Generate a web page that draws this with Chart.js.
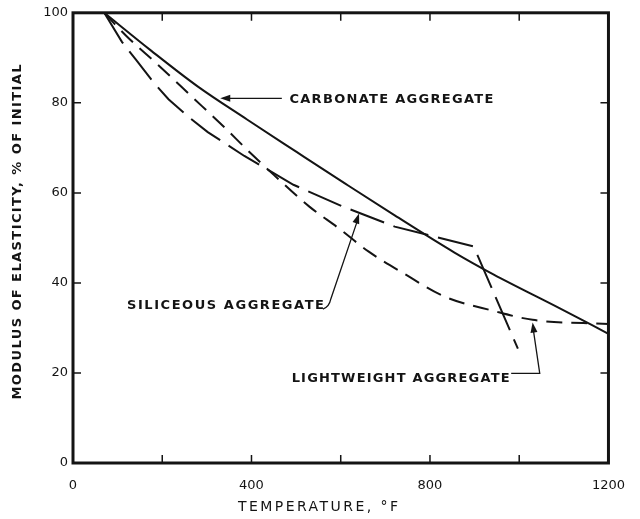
<!DOCTYPE html>
<html>
<head>
<meta charset="utf-8">
<script src="https://cdn.jsdelivr.net/npm/chart.js@4.4.1/dist/chart.umd.min.js"></script>
<style>
    html, body { margin: 0; padding: 0; background: #fff; }
    #chart { display: block; }
</style>
</head>
<body>
<canvas id="chart" width="640" height="519"></canvas>
<script>
// Werte (Temperatur in °F, E-Modul in % vom Anfangswert)
const carbonateTemp = [70, 175, 280, 390, 501, 611, 721, 854, 942, 1090, 1200];
const carbonateModulus = [100, 91.6, 83.6, 76.3, 69.1, 62.0, 55.0, 46.8, 41.9, 34.4, 28.7];

const siliceousTemp = [70, 110, 141, 180, 214, 260, 302, 384, 494, 604, 721, 898, 997];
const siliceousModulus = [100, 93.5, 89.6, 84.6, 80.8, 76.8, 73.5, 68.2, 61.8, 57.0, 52.5, 48.1, 25.4];

const lightweightTemp = [70, 119, 192, 265, 340, 390, 450, 529, 596, 662, 743, 832, 942, 1030, 1200];
const lightweightModulus = [100, 94.9, 88.3, 81.5, 74.5, 69.6, 64.0, 57.0, 52.1, 47.0, 42.0, 37.0, 33.8, 31.8, 30.9];

const xLabelValues = [0, 400, 800, 1200];
const yTickValues = [0, 20, 40, 60, 80, 100];

const seriesNames = ['CARBONATE AGGREGATE', 'SILICEOUS AGGREGATE', 'LIGHTWEIGHT AGGREGATE'];
const xTitle = 'TEMPERATURE, °F';
const yTitle = 'MODULUS OF ELASTICITY, % OF INITIAL';

const ink = '#141414';

function toPoints(xs, ys) {
    return xs.map((x, i) => ({ x: x, y: ys[i] }));
}

// Text auf eine Zielbreite bringen (Sperrung wie in der Vorlage)
function spacedText(ctx, text, x, y, width) {
    ctx.letterSpacing = '0px';
    const w = ctx.measureText(text).width;
    const ls = (width - w) / Math.max(text.length - 1, 1);
    ctx.letterSpacing = ls + 'px';
    ctx.fillText(text, x, y);
    ctx.letterSpacing = '0px';
}

function arrowHead(ctx, fx, fy, tx, ty) {
    const a = Math.atan2(ty - fy, tx - fx);
    const len = 10, half = 3.5;
    ctx.beginPath();
    ctx.moveTo(tx, ty);
    ctx.lineTo(tx - len * Math.cos(a) + half * Math.sin(a), ty - len * Math.sin(a) - half * Math.cos(a));
    ctx.lineTo(tx - len * Math.cos(a) - half * Math.sin(a), ty - len * Math.sin(a) + half * Math.cos(a));
    ctx.closePath();
    ctx.fill();
}

const framePlugin = {
    id: 'frame',
    afterDatasetsDraw(chart) {
        const ctx = chart.ctx;
        const area = chart.chartArea;
        const xs = chart.scales.x;
        const ys = chart.scales.y;
        ctx.save();
        ctx.strokeStyle = ink;
        ctx.fillStyle = ink;

        // Rahmen
        ctx.lineWidth = 3;
        ctx.strokeRect(area.left, area.top, area.right - area.left, area.bottom - area.top);

        // Innenliegende Teilstriche
        ctx.lineWidth = 1.5;
        ctx.beginPath();
        xs.ticks.forEach(t => {
            const px = xs.getPixelForValue(t.value);
            ctx.moveTo(px, area.bottom);
            ctx.lineTo(px, area.bottom - 8);
            ctx.moveTo(px, area.top);
            ctx.lineTo(px, area.top + 8);
        });
        ys.ticks.forEach(t => {
            const py = ys.getPixelForValue(t.value);
            ctx.moveTo(area.left, py);
            ctx.lineTo(area.left + 8, py);
            ctx.moveTo(area.right, py);
            ctx.lineTo(area.right - 8, py);
        });
        ctx.stroke();

        // Beschriftungen der Kurven
        ctx.font = 'bold 13px "DejaVu Sans"';
        ctx.textBaseline = 'middle';
        ctx.textAlign = 'left';
        const X = v => xs.getPixelForValue(v);
        const Y = v => ys.getPixelForValue(v);

        spacedText(ctx, seriesNames[0], X(485), Y(80.8), 204);
        spacedText(ctx, seriesNames[1], X(121), Y(34.9), 197);
        spacedText(ctx, seriesNames[2], X(490), Y(18.8), 218);

        ctx.lineWidth = 1.3;
        // Karbonat: waagerechter Pfeil nach links
        ctx.beginPath();
        ctx.moveTo(X(468), Y(81.0));
        ctx.lineTo(X(336), Y(81.0));
        ctx.stroke();
        arrowHead(ctx, X(468), Y(81.0), X(330), Y(81.0));

        // Quarzhaltig: Haken am Textende, dann nach oben
        ctx.beginPath();
        ctx.moveTo(X(560), Y(34.2));
        ctx.quadraticCurveTo(X(574), Y(34.6), X(578), Y(36.5));
        ctx.lineTo(X(638), Y(54.0));
        ctx.stroke();
        arrowHead(ctx, X(578), Y(36.5), X(641), Y(55.4));

        // Leichtzuschlag: waagerecht, dann nach oben
        ctx.beginPath();
        ctx.moveTo(X(982), Y(19.9));
        ctx.lineTo(X(1046), Y(19.9));
        ctx.lineTo(X(1031), Y(30.0));
        ctx.stroke();
        arrowHead(ctx, X(1046), Y(19.9), X(1030), Y(31.2));

        // Achsentitel
        ctx.font = '14px "DejaVu Sans"';
        ctx.textAlign = 'left';
        spacedText(ctx, xTitle, 238, 507, 160);

        ctx.translate(18, 232);
        ctx.rotate(-Math.PI / 2);
        ctx.font = 'bold 13px "DejaVu Sans"';
        ctx.textAlign = 'center';
        ctx.letterSpacing = '0px';
        const w = ctx.measureText(yTitle).width;
        const ls = (335 - w) / (yTitle.length - 1);
        ctx.letterSpacing = ls + 'px';
        ctx.fillText(yTitle, ls / 2, 0);
        ctx.restore();
    }
};

const lineStyle = {
    borderColor: ink,
    borderWidth: 2,
    pointRadius: 0,
    fill: false
};

new Chart(document.getElementById('chart'), {
    type: 'line',
    data: {
        datasets: [
            {
                label: seriesNames[0],
                data: toPoints(carbonateTemp, carbonateModulus),
                ...lineStyle,
                cubicInterpolationMode: 'monotone'
            },
            {
                label: seriesNames[1],
                data: toPoints(siliceousTemp, siliceousModulus),
                ...lineStyle,
                borderDash: [36, 10],
                tension: 0
            },
            {
                label: seriesNames[2],
                data: toPoints(lightweightTemp, lightweightModulus),
                ...lineStyle,
                borderDash: [16, 9],
                cubicInterpolationMode: 'monotone'
            }
        ]
    },
    options: {
        responsive: false,
        animation: false,
        layout: { padding: { top: 10, right: 23, left: 0, bottom: 0 } },
        plugins: {
            legend: { display: false },
            tooltip: { enabled: false }
        },
        scales: {
            x: {
                type: 'linear',
                min: 0,
                max: 1200,
                grid: { display: false, drawTicks: false },
                border: { display: false },
                ticks: {
                    stepSize: 200,
                    padding: 15,
                    maxRotation: 0,
                    autoSkip: false,
                    color: ink,
                    font: { family: '"DejaVu Sans"', size: 13 },
                    callback: v => xLabelValues.includes(v) ? String(v) : ''
                },
                afterFit: s => { s.height = 56; }
            },
            y: {
                min: 0,
                max: 100,
                grid: { display: false, drawTicks: false },
                border: { display: false },
                ticks: {
                    stepSize: 20,
                    padding: 5,
                    color: ink,
                    font: { family: '"DejaVu Sans"', size: 13 },
                    callback: v => yTickValues.includes(v) ? String(v) : ''
                },
                afterFit: s => { s.width = 73; }
            }
        }
    },
    plugins: [framePlugin]
});
</script>
</body>
</html>
